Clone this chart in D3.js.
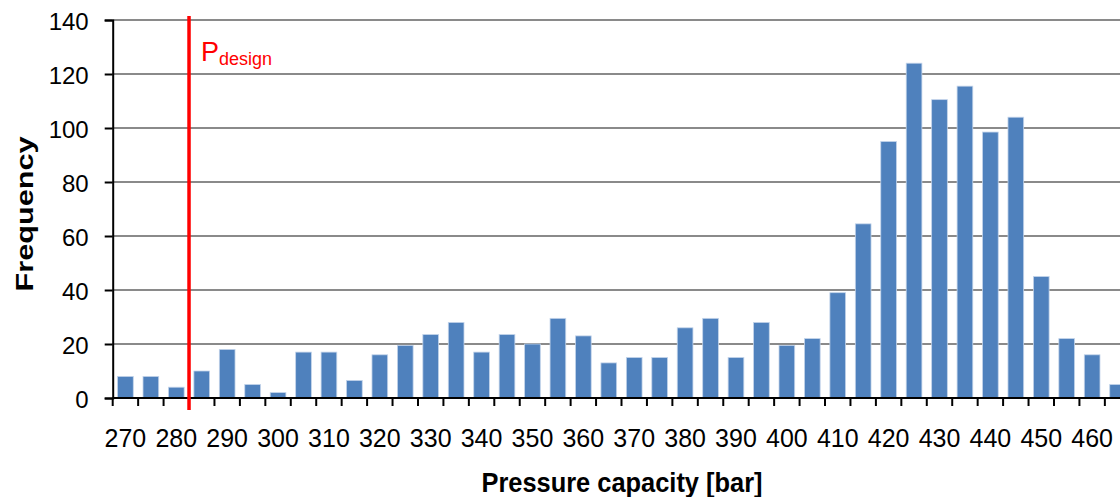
<!DOCTYPE html>
<html>
<head>
<meta charset="utf-8">
<script src="https://cdn.jsdelivr.net/npm/d3@7"></script>
<style>
  html, body { margin: 0; padding: 0; background: #fff; }
  svg { display: block; font-family: "Liberation Sans", Arial, sans-serif; }
</style>
</head>
<body>
<svg id="chart" width="1120" height="497"></svg>
<script>
// ---- data ----
const categories = [270, 275, 280, 285, 290, 295, 300, 305, 310, 315,
                    320, 325, 330, 335, 340, 345, 350, 355, 360, 365,
                    370, 375, 380, 385, 390, 395, 400, 405, 410, 415,
                    420, 425, 430, 435, 440, 445, 450, 455, 460, 465];
const frequency  = [8, 8, 4, 10, 18, 5, 2, 17, 17, 6.5,
                    16, 19.5, 23.5, 28, 17, 23.5, 20, 29.5, 23, 13,
                    15, 15, 26, 29.5, 15, 28, 19.5, 22, 39, 64.5,
                    95, 124, 110.5, 115.5, 98.5, 104, 45, 22, 16, 5];
const yTicks = [0, 20, 40, 60, 80, 100, 120, 140];
const xLabelValues = [270, 280, 290, 300, 310, 320, 330, 340, 350, 360,
                      370, 380, 390, 400, 410, 420, 430, 440, 450, 460];
const pDesign = 282.5;

// ---- layout ----
const svg = d3.select("#chart");
const x0 = 112.7, step = 25.44;
const yBottom = 398, yTop = 20;

const x = d3.scaleBand()
  .domain(categories)
  .range([x0, x0 + categories.length * step])
  .paddingInner(0.383)
  .paddingOuter(0.383 / 2);

const y = d3.scaleLinear().domain([0, 140]).range([yBottom, yTop]);

// value -> position (band centres)
const xVal = d3.scaleLinear()
  .domain([categories[0], categories[categories.length - 1]])
  .range([x(categories[0]) + x.bandwidth() / 2,
          x(categories[categories.length - 1]) + x.bandwidth() / 2]);

// gridlines
svg.append("g").selectAll("line")
  .data(yTicks.filter(d => d > 0))
  .join("line")
  .attr("x1", x0).attr("x2", 1120)
  .attr("y1", d => y(d)).attr("y2", d => y(d))
  .attr("stroke", "#8a8a8a").attr("stroke-width", 2);

// bars
svg.append("g").selectAll("rect")
  .data(categories.map((c, i) => ({ c, v: frequency[i] })))
  .join("rect")
  .attr("x", d => x(d.c))
  .attr("width", x.bandwidth())
  .attr("y", d => y(d.v))
  .attr("height", d => y(0) - y(d.v))
  .attr("fill", "#4f81bd")
  .attr("stroke", "#c3d4ea")
  .attr("stroke-width", 0.8);

// y axis
const yAxis = d3.axisLeft(y).tickValues(yTicks).tickSize(8).tickPadding(16);
const gy = svg.append("g").attr("transform", `translate(${x0},0)`).call(yAxis);
gy.select(".domain").attr("stroke", "#000").attr("stroke-width", 2);
gy.selectAll(".tick line").attr("stroke", "#000").attr("stroke-width", 2);
gy.selectAll(".tick text")
  .attr("font-size", 24).attr("fill", "#000")
  .attr("font-family", "'Liberation Sans', Arial, sans-serif")
  .attr("dy", "0.4em");

// x axis line
svg.append("line")
  .attr("x1", x0).attr("x2", 1120)
  .attr("y1", yBottom).attr("y2", yBottom)
  .attr("stroke", "#000").attr("stroke-width", 2);

// x tick marks at band boundaries
const boundaries = categories.map(c => x(c) + x.bandwidth() / 2 - x.step() / 2);
boundaries.push(boundaries[boundaries.length - 1] + x.step());
svg.append("g").selectAll("line")
  .data(boundaries)
  .join("line")
  .attr("x1", d => d).attr("x2", d => d)
  .attr("y1", yBottom).attr("y2", yBottom + 8)
  .attr("stroke", "#000").attr("stroke-width", 2);

// x labels
svg.append("g").selectAll("text")
  .data(xLabelValues)
  .join("text")
  .attr("x", d => x(d) + x.bandwidth() / 2)
  .attr("y", 447)
  .attr("text-anchor", "middle")
  .attr("font-size", 25)
  .attr("fill", "#000")
  .text(d => d);

// design pressure line
svg.append("line")
  .attr("x1", xVal(pDesign)).attr("x2", xVal(pDesign))
  .attr("y1", 16).attr("y2", 410)
  .attr("stroke", "#ff0000").attr("stroke-width", 3.5);

const pLabel = svg.append("text")
  .attr("x", xVal(pDesign) + 12)
  .attr("y", 61)
  .attr("fill", "#ff0000")
  .attr("font-size", 27);
pLabel.append("tspan").text("P");
pLabel.append("tspan").attr("font-size", 18).attr("dy", 4).text("design");

// axis titles
svg.append("text")
  .attr("x", 622).attr("y", 492)
  .attr("text-anchor", "middle")
  .attr("font-size", 28).attr("font-weight", "bold")
  .attr("textLength", 281).attr("lengthAdjust", "spacingAndGlyphs")
  .text("Pressure capacity [bar]");

svg.append("text")
  .attr("transform", "translate(33,214) rotate(-90)")
  .attr("text-anchor", "middle")
  .attr("font-size", 23).attr("font-weight", "bold")
  .attr("textLength", 155).attr("lengthAdjust", "spacingAndGlyphs")
  .text("Frequency");
</script>
</body>
</html>
